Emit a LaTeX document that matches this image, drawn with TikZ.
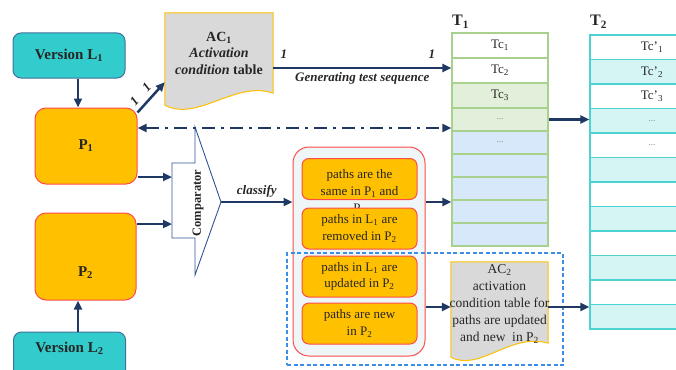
\documentclass[tikz,border=0pt]{standalone}
\usepackage{fontspec}
\setmainfont{Liberation Serif}
\usetikzlibrary{arrows.meta,calc,backgrounds}
\definecolor{navy}{HTML}{1F3864}
\definecolor{tealf}{HTML}{33CCCC}
\definecolor{tealb}{HTML}{41719C}
\definecolor{orf}{HTML}{FFC000}
\definecolor{redb}{HTML}{FF4B4B}
\definecolor{docg}{HTML}{D9D9D9}
\definecolor{docb}{HTML}{FFC000}
\definecolor{tgreen}{HTML}{A9D18E}
\definecolor{lgreen}{HTML}{E2EFDA}
\definecolor{lblue}{HTML}{D6E8FA}
\definecolor{tcyan}{HTML}{4DD2D2}
\definecolor{lcyan}{HTML}{D5F5F5}
\definecolor{contf}{HTML}{EEF6F8}
\definecolor{dashblue}{HTML}{3D8EE6}
\definecolor{compb}{HTML}{2F5597}
\definecolor{txt}{HTML}{262626}
\begin{document}
\begin{tikzpicture}[x=1pt,y=-1pt,
  arr/.style={draw=navy, line width=2.5pt, -{Triangle[length=9pt,width=8pt]}},
  ddash/.style={draw=navy, line width=2.6pt, dash pattern=on 13pt off 6pt on 3pt off 6pt,
     {Triangle[length=9pt,width=8pt]}-{Triangle[length=9pt,width=8pt]}},
  ver/.style={draw=tealb, fill=tealf, line width=1pt, rounded corners=8pt, minimum width=112pt, inner sep=0, text=txt,
     font=\bfseries\fontsize{15}{18}\selectfont},
  prog/.style={draw=redb, fill=orf, line width=1pt, rounded corners=11pt, inner sep=0, text=txt,
     font=\bfseries\fontsize{15}{18}\selectfont},
  doc/.style={draw=docb, fill=docg, line width=1pt},
  t1row/.style={draw=tgreen, line width=1.3pt, minimum width=96pt, inner sep=0, text=txt,
     font=\fontsize{13}{15}\selectfont},
  t2row/.style={draw=tcyan, line width=1.3pt, minimum width=124pt, minimum height=24.5pt, inner sep=0, text=txt,
     font=\fontsize{13}{15}\selectfont},
  ib/.style={draw=redb, fill=orf, line width=1pt, rounded corners=7pt, minimum width=115pt, minimum height=41pt,
     inner sep=0, align=center, text=txt, font=\fontsize{13}{16.5}\selectfont},
  lbl/.style={font=\bfseries\itshape\fontsize{13}{15}\selectfont, text=txt},
  dots/.style={font=\fontsize{9}{10}\selectfont, text=gray}
]
\useasboundingbox (0,0) rectangle (676,369);
\clip (0,0) rectangle (676,369);

% Versions and programs
\node[ver, minimum height=45pt] (vl1) at (69,55.5) {Version L\textsubscript{1}};
\node[ver, minimum height=48pt] (vl2) at (69.5,356) {};
\node[font=\bfseries\fontsize{15}{18}\selectfont, text=txt] (vl2t) at (69.5,348) {Version L\textsubscript{2}};
\node[prog, minimum width=102pt, minimum height=76pt] (P1) at (86,146) {P\textsubscript{1}};
\node[prog, minimum width=101pt, minimum height=87pt] (P2) at (85.5,256.5) {};
\node[font=\bfseries\fontsize{15}{18}\selectfont, text=txt] (p2t) at (85.5,273) {P\textsubscript{2}};
\coordinate (ax) at (78,0);
\draw[arr] (vl1.south -| ax) -- (P1.north -| ax);
\draw[arr] (vl2.north -| ax) -- (P2.south -| ax);

% AC1 document
\node[minimum width=108pt, minimum height=80pt, inner sep=0] (ac1) at (219,53) {};
\begin{scope}[on background layer]
\draw[doc] (ac1.north west) -- (ac1.north east) -- (ac1.south east)
  .. controls ($(ac1.south east)+(-38,-13)$) and ($(ac1.south west)+(33,29)$) .. ($(ac1.south west)+(0,12)$) -- cycle;
\end{scope}
\node[align=center, text=txt, font=\bfseries\fontsize{14}{16.5}\selectfont] (ac1t) at (ac1.center)
  {AC\textsubscript{1}\\\textit{Activation}\\\textit{condition} table};

% T1 table
\node[t1row, minimum height=25pt] (t1r1) at (500,45.5) {Tc\textsubscript{1}};
\node[t1row, minimum height=25pt] (t1r2) at (500,70.5) {Tc\textsubscript{2}};
\node[t1row, minimum height=25pt, fill=lgreen] (t1r3) at (500,95.5) {Tc\textsubscript{3}};
\node[t1row, minimum height=23pt, fill=lgreen, dots] (t1r4) at (500,119.5) {...};
\node[t1row, minimum height=23pt, fill=lblue, dots] (t1r5) at (500,142.5) {...};
\node[t1row, minimum height=23pt, fill=lblue] (t1r6) at (500,165.5) {};
\node[t1row, minimum height=23pt, fill=lblue] (t1r7) at (500,188.5) {};
\node[t1row, minimum height=23pt, fill=lblue] (t1r8) at (500,211.5) {};
\node[t1row, minimum height=23pt, fill=lblue] (t1r9) at (500,234.5) {};
\node[anchor=west, inner sep=0, text=txt, font=\bfseries\fontsize{16}{18}\selectfont] (T1) at (452,22) {T\textsubscript{1}};

% T2 table
\node[t2row, fill=white] (t2r1) at (652,47.25) {Tc’\textsubscript{1}};
\node[t2row, fill=lcyan] (t2r2) at (652,71.75) {Tc’\textsubscript{2}};
\node[t2row, fill=white] (t2r3) at (652,96.25) {Tc’\textsubscript{3}};
\node[t2row, fill=lcyan, dots] (t2r4) at (652,120.75) {...};
\node[t2row, fill=white, dots] (t2r5) at (652,145.25) {...};
\node[t2row, fill=lcyan] (t2r6) at (652,169.75) {};
\node[t2row, fill=white] (t2r7) at (652,194.25) {};
\node[t2row, fill=lcyan] (t2r8) at (652,218.75) {};
\node[t2row, fill=white] (t2r9) at (652,243.25) {};
\node[t2row, fill=lcyan] (t2r10) at (652,267.75) {};
\node[t2row, fill=white] (t2r11) at (652,292.25) {};
\node[t2row, fill=lcyan] (t2r12) at (652,316.75) {};
\node[anchor=west, inner sep=0, text=txt, font=\bfseries\fontsize{16}{18}\selectfont] (T2) at (590,22) {T\textsubscript{2}};

% Comparator
\draw[compb, line width=0.9pt, fill=white] (195,127) -- (221,202) -- (195,275) -- (195,238) -- (172,238)
  -- (172,163) -- (195,163) -- cycle;
\node[rotate=90, text=txt, font=\bfseries\fontsize{12.5}{14}\selectfont] (comp) at (198,203) {Comparator};
\coordinate (cmpT) at (221,202);
\coordinate (cmpL1) at (172,177);
\coordinate (cmpL2) at (172,224);

% Container and classes
\node[draw=redb, fill=contf, line width=1pt, rounded corners=16pt, minimum width=132pt, minimum height=209pt] (cont) at (359,251.5) {};
\node[draw=dashblue, line width=1.2pt, dash pattern=on 4pt off 2.5pt, minimum width=276pt, minimum height=112pt] (dbox) at (425,309) {};
\node[ib] (b1) at (359.5,179) {};
\node[align=center, text=txt, font=\fontsize{13}{17}\selectfont] (b1t) at (359.5,192)
  {paths are the\\same in P\textsubscript{1} and\\P\textsubscript{2}};
\node[ib] (b2) at (359.5,228.5) {paths in L\textsubscript{1} are\\removed in P\textsubscript{2}};
\node[ib] (b3) at (359.5,276.5) {paths in L\textsubscript{1} are\\updated in P\textsubscript{2}};
\node[ib] (b4) at (359.5,323.5) {paths are new\\in P\textsubscript{2}};

% AC2 document
\node[minimum width=97pt, minimum height=81pt, inner sep=0] (ac2) at (499.5,302.5) {};
\begin{scope}[on background layer]
\draw[doc] (ac2.north west) -- (ac2.north east) -- (ac2.south east)
  .. controls ($(ac2.south east)+(-38,-11)$) and ($(ac2.south west)+(29,29)$) .. ($(ac2.south west)+(0,14)$) -- cycle;
\end{scope}
\node[align=center, text=txt, font=\fontsize{13.5}{17}\selectfont] (ac2t) at (499.5,304)
  {AC\textsubscript{2}\\activation\\condition table for\\paths are updated\\and new \ in P\textsubscript{2}};

% Connectors
\draw[arr] ($(P1.north east)+(0,5)$) -- ($(ac1.south west)+(0,-11)$)
  node[pos=0.15, above=1pt, sloped, lbl] {1} node[pos=0.6, above=1pt, sloped, lbl] {1};
\draw[arr] ($(ac1.east)+(0,15)$) coordinate (g1) -- (g1 -| t1r2.west)
  node[pos=0.06, above=5pt, lbl] {1} node[pos=0.89, above=5pt, lbl] {1}
  node[midway, below=0pt, lbl] {Generating test sequence};
\coordinate (ddc) at ($(t1r4.west)+(0,8.5)$);
\draw[ddash] (P1.east |- ddc) -- (ddc);
\draw[arr] (t1r4.east) -- (t1r4.east -| t2r4.west);
\draw[arr] (P1.east |- cmpL1) -- (cmpL1);
\draw[arr] (P2.east |- cmpL2) -- (cmpL2);
\draw[arr] (cmpT) -- (cmpT -| cont.west) node[midway, above, lbl] {classify};
\draw[arr] (cmpT -| cont.east) -- (cmpT -| t1r8.west);
\coordinate (a2w) at ($(ac2.west)+(0,4.5)$);
\draw[arr] (a2w -| cont.east) -- (a2w);
\draw[arr] (a2w -| ac2.east) -- (a2w -| t2r12.west);
\end{tikzpicture}
\end{document}
